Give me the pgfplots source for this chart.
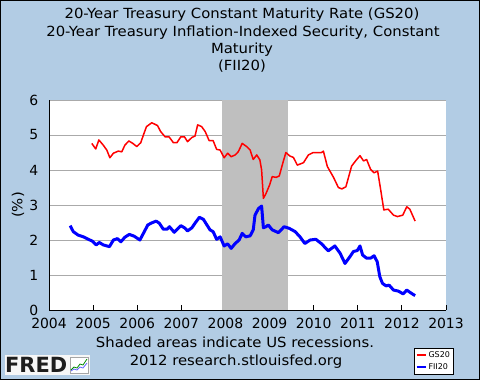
\documentclass[border=0pt]{standalone}
\usepackage{fontspec}
\setmainfont{DejaVu Sans}
\newfontfamily\widefont[FakeStretch=1.065]{DejaVu Sans}
\usepackage{pgfplots}
\pgfplotsset{compat=1.18}
\definecolor{fredbg}{RGB}{178,204,228}
\definecolor{recess}{RGB}{191,191,191}
\definecolor{gridg}{RGB}{170,170,170}
\definecolor{fredtxt}{RGB}{30,30,30}
\begin{document}
\begin{tikzpicture}[x=1bp,y=1bp]
\fill[fredbg] (0,0) rectangle (480,380);
\draw[black,line width=1bp] (0.5,0.5) rectangle (479.5,379.5);
\begin{scope}[every node/.style={font=\widefont\fontsize{14}{16}\selectfont, anchor=base, inner sep=0pt}]
\node at (242,361.7) {20-Year Treasury Constant Maturity Rate (GS20)};
\node at (243,343.3) {20-Year Treasury Inflation-Indexed Security, Constant};
\node at (242,326.7) {Maturity};
\node at (242,309.3) {(FII20)};
\node at (235,33) {Shaded areas indicate US recessions.};
\node at (236,15) {2012 research.stlouisfed.org};
\end{scope}
% FRED logo
\fill[white!94!gray] (5,5) rectangle (90,25);
\node[anchor=base west, inner sep=0pt, font=\fontsize{21}{23}\selectfont\bfseries, text=fredtxt] at (5,7.5) {FRED};
\fill[white] (70,7) rectangle (88,23);
\draw[gray!70, line width=0.5bp] (70,7) rectangle (88,23);
\draw[green!55!black, line width=0.8bp] (71,10) -- (74,13) -- (77,12) -- (80,16) -- (83,15) -- (87,21);
\draw[blue!60, line width=0.8bp] (71,9) -- (74,11) -- (77,10) -- (80,13) -- (83,12) -- (87,17);
\begin{axis}[
  at={(49bp,70bp)}, anchor=south west,
  scale only axis, width=397bp, height=210bp,
  xmin=2004, xmax=2013, ymin=0, ymax=6,
  axis background/.style={fill=white},
  axis x line=bottom, axis y line=left,
  axis line style={-, black, line width=0.8bp},
  xtick={2004,2005,...,2013},
  ytick={0,1,...,6},
  xtick align=inside,
  major tick length=5bp,
  xtick style={black, line width=0.8bp},
  ytick style={draw=none},
  ymajorgrids,
  grid style={gridg, line width=1bp},
  tick label style={font=\fontsize{14}{16}\selectfont, inner sep=0.5bp},
  /pgf/number format/assume math mode=true,
  /pgf/number format/1000 sep={},
  xticklabel style={yshift=-7.5bp},
  yticklabel style={xshift=-7.5bp},
  ylabel={(\%)},
  ylabel style={font=\widefont\fontsize{14}{16}\selectfont, at={(axis description cs:-0.078,0.5)}, anchor=center},
  legend style={at={(axis description cs:0.919,-0.181)}, anchor=north west,
    font=\fontsize{8}{9}\selectfont, draw=black, fill=white, inner sep=1.5pt,
    row sep=0pt, legend cell align=left},
  legend image code/.code={\draw[#1, line width=2bp] (0bp,0bp) -- (9bp,0bp);},
]
\addplot[fill=recess, draw=none, forget plot] coordinates {(2007.917,0) (2007.917,6) (2009.417,6) (2009.417,0)} -- cycle;
\addplot[red, line width=1.5bp, line join=round] coordinates {
(2004.97,4.76) (2005.06,4.60) (2005.13,4.86) (2005.23,4.71) (2005.31,4.57) (2005.38,4.35)
(2005.46,4.48) (2005.57,4.54) (2005.65,4.52) (2005.72,4.71) (2005.81,4.83) (2005.90,4.76)
(2005.99,4.67) (2006.08,4.78) (2006.14,5.00) (2006.21,5.24) (2006.33,5.35) (2006.46,5.27)
(2006.53,5.10) (2006.63,4.95) (2006.72,4.95) (2006.82,4.78) (2006.90,4.78) (2006.99,4.95)
(2007.07,4.95) (2007.14,4.81) (2007.24,4.93) (2007.31,4.97) (2007.37,5.29) (2007.46,5.24)
(2007.54,5.10) (2007.63,4.84) (2007.72,4.84) (2007.80,4.59) (2007.88,4.57) (2007.97,4.35)
(2008.05,4.48) (2008.13,4.38) (2008.22,4.43) (2008.29,4.52) (2008.38,4.76) (2008.48,4.67)
(2008.56,4.57) (2008.63,4.30) (2008.71,4.43) (2008.78,4.29) (2008.82,4.00) (2008.86,3.19)
(2008.92,3.33) (2009.00,3.57) (2009.06,3.81) (2009.15,3.79) (2009.22,3.83) (2009.31,4.24)
(2009.37,4.50) (2009.46,4.40) (2009.54,4.36) (2009.63,4.14) (2009.77,4.21) (2009.88,4.43)
(2009.99,4.50) (2010.18,4.50) (2010.22,4.54) (2010.31,4.10) (2010.45,3.79) (2010.56,3.50)
(2010.64,3.46) (2010.73,3.52) (2010.86,4.11) (2010.95,4.26) (2011.05,4.41) (2011.13,4.26)
(2011.20,4.30) (2011.29,4.02) (2011.37,3.92) (2011.45,3.97) (2011.52,3.43) (2011.59,2.86)
(2011.69,2.88) (2011.81,2.71) (2011.90,2.67) (2012.02,2.71) (2012.11,2.95) (2012.18,2.88)
(2012.30,2.54)};
\addlegendentry{GS20}
\addplot[blue, line width=3bp, line join=round] coordinates {
(2004.48,2.41) (2004.55,2.24) (2004.66,2.14) (2004.78,2.09) (2004.89,2.02) (2004.98,1.97)
(2005.07,1.86) (2005.14,1.93) (2005.23,1.86) (2005.37,1.81) (2005.46,2.00) (2005.55,2.04)
(2005.63,1.95) (2005.72,2.08) (2005.82,2.16) (2005.93,2.11) (2006.06,2.00) (2006.14,2.19)
(2006.24,2.43) (2006.33,2.49) (2006.43,2.54) (2006.50,2.48) (2006.59,2.31) (2006.68,2.31)
(2006.73,2.38) (2006.84,2.22) (2006.99,2.41) (2007.07,2.35) (2007.14,2.26) (2007.24,2.35)
(2007.31,2.48) (2007.41,2.65) (2007.50,2.59) (2007.58,2.43) (2007.65,2.29) (2007.72,2.24)
(2007.80,2.02) (2007.88,2.09) (2007.97,1.83) (2008.05,1.89) (2008.13,1.76) (2008.22,1.90)
(2008.31,2.00) (2008.38,2.19) (2008.46,2.09) (2008.56,2.12) (2008.63,2.29) (2008.67,2.71)
(2008.75,2.90) (2008.82,2.97) (2008.86,2.35) (2008.92,2.38) (2008.97,2.43) (2009.06,2.29)
(2009.20,2.21) (2009.33,2.38) (2009.45,2.33) (2009.58,2.24) (2009.69,2.09) (2009.80,1.90)
(2009.92,2.00) (2010.05,2.02) (2010.18,1.89) (2010.33,1.69) (2010.48,1.83) (2010.60,1.62)
(2010.71,1.33) (2010.82,1.52) (2010.90,1.67) (2010.99,1.70) (2011.05,1.83) (2011.11,1.57)
(2011.20,1.48) (2011.29,1.48) (2011.37,1.55) (2011.44,1.38) (2011.50,0.95) (2011.56,0.76)
(2011.64,0.69) (2011.71,0.71) (2011.81,0.57) (2011.92,0.54) (2012.03,0.46) (2012.11,0.57)
(2012.20,0.49) (2012.30,0.41)};
\addlegendentry{FII20}
\end{axis}
\pgfresetboundingbox
\useasboundingbox (0,0) rectangle (480,380);
\end{tikzpicture}
\end{document}
